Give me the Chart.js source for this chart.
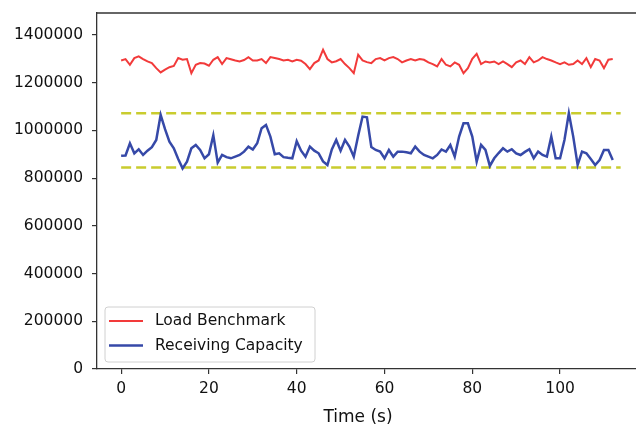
<!DOCTYPE html>
<html>
<head>
<meta charset="utf-8">
<script src="https://cdn.jsdelivr.net/npm/chart.js@4"></script>
<style>
  html, body { margin: 0; padding: 0; background: #fff; overflow: hidden; }
  canvas { display: block; }
</style>
</head>
<body>
<canvas id="chart" width="636" height="428"></canvas>
<script>
// time axis (s)
const seconds = [
  0, 1, 2, 3, 4, 5, 6, 7, 8, 9, 10, 11, 12, 13, 14, 15, 16, 17, 18, 19,
  20, 21, 22, 23, 24, 25, 26, 27, 28, 29, 30, 31, 32, 33, 34, 35, 36, 37, 38, 39,
  40, 41, 42, 43, 44, 45, 46, 47, 48, 49, 50, 51, 52, 53, 54, 55, 56, 57, 58, 59,
  60, 61, 62, 63, 64, 65, 66, 67, 68, 69, 70, 71, 72, 73, 74, 75, 76, 77, 78, 79,
  80, 81, 82, 83, 84, 85, 86, 87, 88, 89, 90, 91, 92, 93, 94, 95, 96, 97, 98, 99,
  100, 101, 102, 103, 104, 105, 106, 107, 108, 109, 110, 111, 112
];

const loadBenchmark = [
  1293000, 1299000, 1275000, 1303000, 1310000, 1299000, 1289000, 1282000, 1261000, 1243000,
  1255000, 1265000, 1270000, 1303000, 1296000, 1299000, 1240000, 1275000, 1282000, 1280000,
  1271000, 1296000, 1307000, 1278000, 1303000, 1298000, 1293000, 1289000, 1295000, 1307000,
  1293000, 1293000, 1299000, 1282000, 1307000, 1303000, 1299000, 1293000, 1296000, 1289000,
  1296000, 1292000, 1278000, 1257000, 1282000, 1293000, 1338000, 1299000, 1285000, 1290000,
  1299000, 1278000, 1261000, 1240000, 1317000, 1293000, 1286000, 1282000, 1299000, 1303000,
  1293000, 1303000, 1307000, 1299000, 1285000, 1293000, 1299000, 1293000, 1299000, 1296000,
  1285000, 1278000, 1268000, 1299000, 1275000, 1268000, 1285000, 1275000, 1240000, 1261000,
  1300000, 1321000, 1278000, 1289000, 1285000, 1289000, 1278000, 1289000, 1278000, 1265000,
  1285000, 1293000, 1278000, 1307000, 1285000, 1293000, 1307000, 1299000, 1293000, 1285000,
  1278000, 1285000, 1275000, 1278000, 1293000, 1278000, 1303000, 1265000, 1299000, 1293000,
  1261000, 1296000, 1299000
];

const receivingCapacity = [
  894000, 895000, 946000, 904000, 921000, 897000, 915000, 930000, 960000, 1065000,
  1005000, 953000, 925000, 880000, 841000, 869000, 925000, 939000, 918000, 883000,
  900000, 980000, 865000, 897000, 888000, 883000, 890000, 897000, 911000, 932000,
  920000, 946000, 1009000, 1023000, 974000, 900000, 904000, 888000, 885000, 883000,
  955000, 915000, 890000, 932000, 915000, 904000, 870000, 855000, 920000, 960000,
  915000, 960000, 932000, 890000, 978000, 1058000, 1055000, 930000, 918000, 911000,
  883000, 918000, 890000, 911000, 911000, 908000, 904000, 932000, 911000, 897000,
  890000, 883000, 897000, 920000, 911000, 939000, 890000, 974000, 1030000, 1030000,
  974000, 869000, 939000, 918000, 851000, 883000, 905000, 925000, 911000, 921000,
  904000, 897000, 910000, 921000, 883000, 911000, 897000, 890000, 974000, 883000,
  883000, 960000, 1072000, 974000, 855000, 911000, 904000, 880000, 855000, 876000,
  918000, 918000, 876000
];

// dashed reference band
const bandLevels = [1072000, 844000];
const bandSpan = [0, 113.8];

const xTicks = [0, 20, 40, 60, 80, 100];
const yTicks = [0, 200000, 400000, 600000, 800000, 1000000, 1200000, 1400000];

const FONT = 'DejaVu Sans';
const AXIS = '#333';

const toPoints = (xs, ys) => xs.map((x, i) => ({ x: x, y: ys[i] }));

const datasets = [
  {
    label: 'Load Benchmark',
    data: toPoints(seconds, loadBenchmark),
    borderColor: '#f23a3a',
    borderWidth: 2,
    pointRadius: 0,
    tension: 0
  },
  {
    label: 'Receiving Capacity',
    data: toPoints(seconds, receivingCapacity),
    borderColor: '#3649a8',
    borderWidth: 2.5,
    pointRadius: 0,
    tension: 0
  }
];

bandLevels.forEach(level => {
  datasets.push({
    label: '',
    isBand: true,
    data: bandSpan.map(x => ({ x: x, y: level })),
    borderColor: '#c9cc2e',
    borderWidth: 2.5,
    borderDash: [10, 5],
    pointRadius: 0
  });
});

// top frame line, in-axes legend and x axis title
const decor = {
  id: 'decor',
  afterDraw(chart) {
    const ctx = chart.ctx;
    const a = chart.chartArea;
    ctx.save();
    ctx.strokeStyle = AXIS;
    ctx.lineWidth = 1.3;
    ctx.beginPath();
    ctx.moveTo(a.left, a.top);
    ctx.lineTo(a.right, a.top);
    ctx.stroke();

    // legend
    const bx = 105, by = 307, bw = 210, bh = 55, r = 3;
    ctx.fillStyle = 'rgba(255,255,255,0.85)';
    ctx.strokeStyle = '#d0d0d0';
    ctx.lineWidth = 1;
    ctx.beginPath();
    ctx.moveTo(bx + r, by);
    ctx.arcTo(bx + bw, by, bx + bw, by + bh, r);
    ctx.arcTo(bx + bw, by + bh, bx, by + bh, r);
    ctx.arcTo(bx, by + bh, bx, by, r);
    ctx.arcTo(bx, by, bx + bw, by, r);
    ctx.closePath();
    ctx.fill();
    ctx.stroke();

    const rows = chart.data.datasets.filter(d => !d.isBand);
    ctx.font = '15.5px "' + FONT + '"';
    ctx.textBaseline = 'middle';
    ctx.textAlign = 'left';
    rows.forEach((d, i) => {
      const y = 321 + i * 24.5;
      ctx.strokeStyle = d.borderColor;
      ctx.lineWidth = d.borderWidth;
      ctx.beginPath();
      ctx.moveTo(109, y);
      ctx.lineTo(143, y);
      ctx.stroke();
      ctx.fillStyle = '#111';
      ctx.fillText(d.label, 155, y);
    });

    ctx.font = '17px "' + FONT + '"';
    ctx.textAlign = 'center';
    ctx.fillStyle = '#111';
    ctx.fillText('Time (s)', 358, 418);
    ctx.restore();
  }
};

new Chart(document.getElementById('chart'), {
  type: 'line',
  data: { datasets: datasets },
  plugins: [decor],
  options: {
    responsive: false,
    devicePixelRatio: 1,
    animation: false,
    layout: { padding: 0 },
    plugins: {
      legend: { display: false },
      tooltip: { enabled: false }
    },
    scales: {
      x: {
        type: 'linear',
        min: -5.5,
        max: 117.3,
        afterFit: s => { s.height = 59; },
        afterBuildTicks: s => { s.ticks = xTicks.map(v => ({ value: v })); },
        grid: { drawOnChartArea: false, drawTicks: true, tickLength: 5, color: AXIS, lineWidth: 1.2 },
        border: { display: true, color: AXIS, width: 1.3 },
        ticks: { color: '#111', font: { family: FONT, size: 15.5 }, padding: 6, maxRotation: 0, autoSkip: false }
      },
      y: {
        min: 0,
        max: 1492000,
        afterFit: s => { s.width = 97; s.paddingTop = 13; s.paddingBottom = 0; },
        afterBuildTicks: s => { s.ticks = yTicks.map(v => ({ value: v })); },
        grid: { drawOnChartArea: false, drawTicks: true, tickLength: 5, color: AXIS, lineWidth: 1.2 },
        border: { display: true, color: AXIS, width: 1.3 },
        ticks: { color: '#111', font: { family: FONT, size: 15.5 }, padding: 9, autoSkip: false, callback: v => String(v) }
      }
    }
  }
});
</script>
</body>
</html>
